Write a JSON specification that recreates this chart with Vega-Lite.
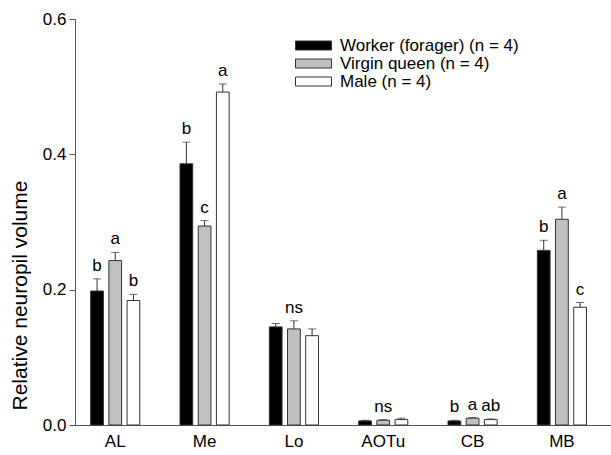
{
  "$schema": "https://vega.github.io/schema/vega-lite/v6.json",
  "width": 536,
  "height": 406,
  "autosize": "none",
  "padding": {"left": 75, "top": 19, "right": 0, "bottom": 30},
  "background": "white",
  "config": {
    "view": {"stroke": null},
    "font": "Liberation Sans",
    "axis": {"grid": false, "domainColor": "#555", "tickColor": "#555", "labelColor": "black", "titleColor": "black", "labelFont": "Liberation Sans", "titleFont": "Liberation Sans"}
  },
  "data": {
    "values": [
      {"region": "AL", "group": "Worker (forager) (n = 4)", "value": 0.198, "upper": 0.216, "label": "b"},
      {"region": "AL", "group": "Virgin queen (n = 4)", "value": 0.243, "upper": 0.255, "label": "a"},
      {"region": "AL", "group": "Male (n = 4)", "value": 0.184, "upper": 0.193, "label": "b"},
      {"region": "Me", "group": "Worker (forager) (n = 4)", "value": 0.386, "upper": 0.418, "label": "b"},
      {"region": "Me", "group": "Virgin queen (n = 4)", "value": 0.294, "upper": 0.302, "label": "c"},
      {"region": "Me", "group": "Male (n = 4)", "value": 0.492, "upper": 0.504, "label": "a"},
      {"region": "Lo", "group": "Worker (forager) (n = 4)", "value": 0.145, "upper": 0.150, "label": ""},
      {"region": "Lo", "group": "Virgin queen (n = 4)", "value": 0.142, "upper": 0.154, "label": "ns"},
      {"region": "Lo", "group": "Male (n = 4)", "value": 0.132, "upper": 0.142, "label": ""},
      {"region": "AOTu", "group": "Worker (forager) (n = 4)", "value": 0.006, "upper": 0.007, "label": ""},
      {"region": "AOTu", "group": "Virgin queen (n = 4)", "value": 0.007, "upper": 0.008, "label": "ns"},
      {"region": "AOTu", "group": "Male (n = 4)", "value": 0.008, "upper": 0.010, "label": ""},
      {"region": "CB", "group": "Worker (forager) (n = 4)", "value": 0.006, "upper": 0.007, "label": "b"},
      {"region": "CB", "group": "Virgin queen (n = 4)", "value": 0.010, "upper": 0.011, "label": "a"},
      {"region": "CB", "group": "Male (n = 4)", "value": 0.008, "upper": 0.009, "label": "ab"},
      {"region": "MB", "group": "Worker (forager) (n = 4)", "value": 0.258, "upper": 0.273, "label": "b"},
      {"region": "MB", "group": "Virgin queen (n = 4)", "value": 0.304, "upper": 0.322, "label": "a"},
      {"region": "MB", "group": "Male (n = 4)", "value": 0.174, "upper": 0.181, "label": "c"}
    ]
  },
  "encoding": {
    "x": {
      "field": "region", "type": "nominal",
      "scale": {"domain": ["AL", "Me", "Lo", "AOTu", "CB", "MB"], "paddingInner": 0.45, "paddingOuter": 0.225, "align": 0.39},
      "axis": {"title": null, "labelAngle": 0, "ticks": false, "tickSize": 0, "labelPadding": 8, "labelFontSize": 17}
    },
    "xOffset": {
      "field": "group", "type": "nominal",
      "scale": {"domain": ["Worker (forager) (n = 4)", "Virgin queen (n = 4)", "Male (n = 4)"], "paddingInner": 0.3, "paddingOuter": 0}
    }
  },
  "layer": [
    {
      "mark": {"type": "rule", "color": "#333", "strokeWidth": 1},
      "encoding": {
        "y": {"field": "value", "type": "quantitative"},
        "y2": {"field": "upper"}
      }
    },
    {
      "mark": {"type": "tick", "orient": "horizontal", "size": 8, "thickness": 1, "color": "#333"},
      "encoding": {
        "y": {"field": "upper", "type": "quantitative"}
      }
    },
    {
      "mark": {"type": "bar", "stroke": "#333", "strokeWidth": 1},
      "encoding": {
        "y": {
          "field": "value", "type": "quantitative",
          "scale": {"domain": [0, 0.6], "nice": false},
          "axis": {"title": "Relative neuropil volume", "values": [0, 0.2, 0.4, 0.6], "format": ".1f", "tickSize": 6, "labelPadding": 3, "labelFontSize": 17, "titleFontSize": 21, "titleFontWeight": "normal", "titleX": -55, "titleY": 276, "titleAngle": 270, "titleAlign": "center", "titleBaseline": "middle"}
        },
        "fill": {
          "field": "group", "type": "nominal",
          "scale": {"domain": ["Worker (forager) (n = 4)", "Virgin queen (n = 4)", "Male (n = 4)"], "range": ["#000000", "#c0c0c0", "#ffffff"]},
          "legend": {
            "title": null, "orient": "none", "legendX": 229, "legendY": 17,
            "symbolType": "M-2,-0.5H2V0.5H-2Z", "symbolSize": 324,
            "symbolStrokeColor": "#333", "symbolStrokeWidth": 1, "symbolOpacity": 1,
            "labelFontSize": 17, "labelFont": "Liberation Sans", "labelColor": "black", "labelLimit": 0, "labelOffset": 17, "rowPadding": -1
          }
        }
      }
    },
    {
      "mark": {"type": "text", "fontSize": 17, "baseline": "alphabetic", "dy": -8, "color": "black"},
      "encoding": {
        "y": {"field": "upper", "type": "quantitative"},
        "text": {"field": "label"}
      }
    }
  ]
}
